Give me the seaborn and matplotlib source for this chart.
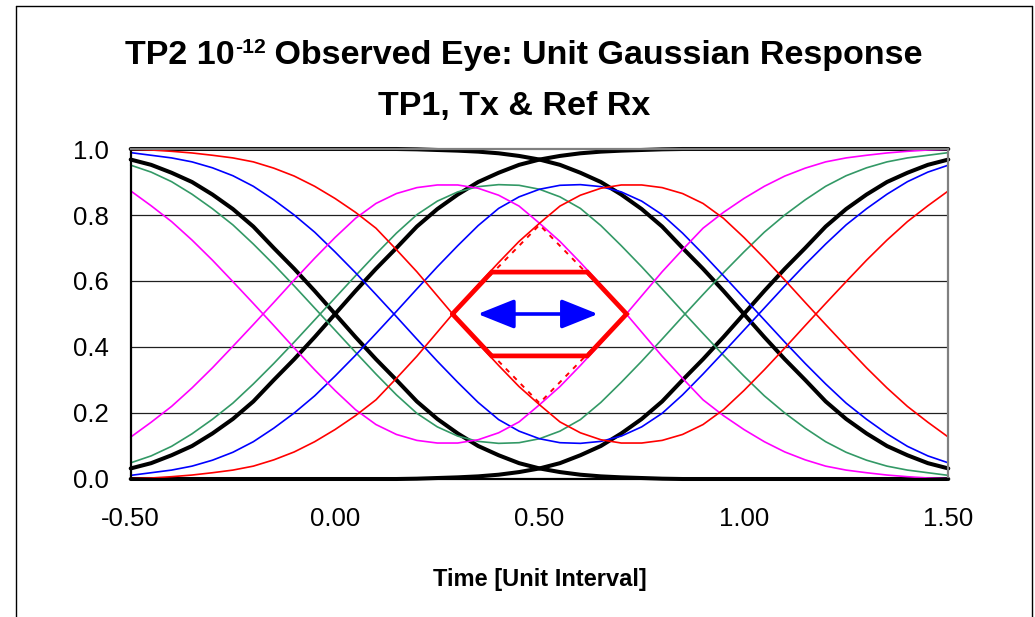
import matplotlib
matplotlib.use("Agg")
import matplotlib.pyplot as plt
import seaborn as sns
import pandas as pd
from matplotlib.lines import Line2D
from matplotlib.ticker import MultipleLocator

# ---------------- data ----------------
t_ui = [-0.50, -0.45, -0.40, -0.35, -0.30, -0.25, -0.20, -0.15, -0.10, -0.05,
        0.00, 0.05, 0.10, 0.15, 0.20, 0.25, 0.30, 0.35, 0.40, 0.45,
        0.50, 0.55, 0.60, 0.65, 0.70, 0.75, 0.80, 0.85, 0.90, 0.95,
        1.00, 1.05, 1.10, 1.15, 1.20, 1.25, 1.30, 1.35, 1.40, 1.45, 1.50]

red_up = [0.001, 0.003, 0.007, 0.012, 0.019, 0.027, 0.039, 0.058, 0.082, 0.113,
          0.150, 0.192, 0.240, 0.305, 0.372, 0.445, 0.518, 0.589, 0.656, 0.720,
          0.775, 0.827, 0.860, 0.881, 0.891, 0.891, 0.883, 0.865, 0.835, 0.790,
          0.732, 0.669, 0.603, 0.535, 0.468, 0.402, 0.337, 0.276, 0.220, 0.172, 0.127]
red_dn = [0.999, 0.997, 0.993, 0.988, 0.981, 0.973, 0.961, 0.942, 0.918, 0.887,
          0.850, 0.808, 0.760, 0.695, 0.628, 0.555, 0.482, 0.411, 0.344, 0.280,
          0.225, 0.173, 0.140, 0.119, 0.109, 0.109, 0.117, 0.135, 0.165, 0.210,
          0.268, 0.331, 0.397, 0.465, 0.532, 0.598, 0.663, 0.724, 0.780, 0.828, 0.873]
mag_up = [0.127, 0.172, 0.220, 0.276, 0.337, 0.402, 0.468, 0.535, 0.603, 0.669,
          0.732, 0.790, 0.835, 0.865, 0.883, 0.891, 0.891, 0.881, 0.860, 0.827,
          0.775, 0.720, 0.656, 0.589, 0.518, 0.445, 0.372, 0.305, 0.240, 0.192,
          0.150, 0.113, 0.082, 0.058, 0.039, 0.027, 0.019, 0.012, 0.007, 0.003, 0.001]
mag_dn = [0.873, 0.828, 0.780, 0.724, 0.663, 0.598, 0.532, 0.465, 0.397, 0.331,
          0.268, 0.210, 0.165, 0.135, 0.117, 0.109, 0.109, 0.119, 0.140, 0.173,
          0.225, 0.280, 0.344, 0.411, 0.482, 0.555, 0.628, 0.695, 0.760, 0.808,
          0.850, 0.887, 0.918, 0.942, 0.961, 0.973, 0.981, 0.988, 0.993, 0.997, 0.999]
blue_up = [0.011, 0.019, 0.027, 0.039, 0.057, 0.081, 0.113, 0.154, 0.200, 0.252,
           0.312, 0.375, 0.441, 0.508, 0.576, 0.643, 0.707, 0.768, 0.820, 0.855,
           0.878, 0.890, 0.892, 0.886, 0.870, 0.842, 0.801, 0.745, 0.682, 0.616,
           0.549, 0.482, 0.415, 0.350, 0.288, 0.230, 0.181, 0.137, 0.099, 0.070, 0.049]
blue_dn = [0.989, 0.981, 0.973, 0.961, 0.943, 0.919, 0.887, 0.846, 0.800, 0.748,
           0.688, 0.625, 0.559, 0.492, 0.424, 0.357, 0.293, 0.232, 0.180, 0.145,
           0.122, 0.110, 0.108, 0.114, 0.130, 0.158, 0.199, 0.255, 0.318, 0.384,
           0.451, 0.518, 0.585, 0.650, 0.712, 0.770, 0.819, 0.863, 0.901, 0.930, 0.951]
green_up = [0.049, 0.070, 0.099, 0.137, 0.181, 0.230, 0.288, 0.350, 0.415, 0.482,
            0.549, 0.616, 0.682, 0.745, 0.801, 0.842, 0.870, 0.886, 0.892, 0.890,
            0.878, 0.855, 0.820, 0.768, 0.707, 0.643, 0.576, 0.508, 0.441, 0.375,
            0.312, 0.252, 0.200, 0.154, 0.113, 0.081, 0.057, 0.039, 0.027, 0.019, 0.011]
green_dn = [0.951, 0.930, 0.901, 0.863, 0.819, 0.770, 0.712, 0.650, 0.585, 0.518,
            0.451, 0.384, 0.318, 0.255, 0.199, 0.158, 0.130, 0.114, 0.108, 0.110,
            0.122, 0.145, 0.180, 0.232, 0.293, 0.357, 0.424, 0.492, 0.559, 0.625,
            0.688, 0.748, 0.800, 0.846, 0.887, 0.919, 0.943, 0.961, 0.973, 0.981, 0.989]
black_up0 = [0.032, 0.048, 0.072, 0.100, 0.138, 0.182, 0.235, 0.300, 0.363, 0.430,
             0.500, 0.570, 0.637, 0.700, 0.765, 0.818, 0.862, 0.900, 0.928, 0.952,
             0.968, 0.979, 0.987, 0.992, 0.995, 0.997, 0.999, 1.000, 1.000, 1.000,
             1.000, 1.000, 1.000, 1.000, 1.000, 1.000, 1.000, 1.000, 1.000, 1.000, 1.000]
black_dn0 = [0.968, 0.952, 0.928, 0.900, 0.862, 0.818, 0.765, 0.700, 0.637, 0.570,
             0.500, 0.430, 0.363, 0.300, 0.235, 0.182, 0.138, 0.100, 0.072, 0.048,
             0.032, 0.021, 0.013, 0.008, 0.005, 0.003, 0.001, 0.000, 0.000, 0.000,
             0.000, 0.000, 0.000, 0.000, 0.000, 0.000, 0.000, 0.000, 0.000, 0.000, 0.000]
black_up1 = [0.000, 0.000, 0.000, 0.000, 0.000, 0.000, 0.000, 0.000, 0.000, 0.000,
             0.000, 0.000, 0.000, 0.000, 0.001, 0.003, 0.005, 0.008, 0.013, 0.021,
             0.032, 0.048, 0.072, 0.100, 0.138, 0.182, 0.235, 0.300, 0.363, 0.430,
             0.500, 0.570, 0.637, 0.700, 0.765, 0.818, 0.862, 0.900, 0.928, 0.952, 0.968]
black_dn1 = [1.000, 1.000, 1.000, 1.000, 1.000, 1.000, 1.000, 1.000, 1.000, 1.000,
             1.000, 1.000, 1.000, 1.000, 0.999, 0.997, 0.995, 0.992, 0.987, 0.979,
             0.968, 0.952, 0.928, 0.900, 0.862, 0.818, 0.765, 0.700, 0.637, 0.570,
             0.500, 0.430, 0.363, 0.300, 0.235, 0.182, 0.138, 0.100, 0.072, 0.048, 0.032]

# eye mask (hexagon) and dotted diamond
hex_t = [0.287, 0.383, 0.617, 0.713, 0.617, 0.383, 0.287]
hex_v = [0.500, 0.627, 0.627, 0.500, 0.373, 0.373, 0.500]
dia_t = [0.287, 0.500, 0.713, 0.500, 0.287]
dia_v = [0.500, 0.770, 0.500, 0.230, 0.500]
arrow_t = [0.349, 0.643]
arrow_v = [0.500, 0.500]

x_ticks = [-0.5, 0.0, 0.5, 1.0, 1.5]
x_ticklabels = ["-0.50", "0.00", "0.50", "1.00", "1.50"]
y_ticks = [0.0, 0.2, 0.4, 0.6, 0.8, 1.0]
y_ticklabels = ["0.0", "0.2", "0.4", "0.6", "0.8", "1.0"]
grid_levels = [0.2, 0.4, 0.6, 0.8]

title_main = "TP2 10"
title_sup = "-12"
title_rest = " Observed Eye: Unit Gaussian Response"
title_line2 = "TP1, Tx & Ref Rx"
x_label = "Time [Unit Interval]"

# ---------------- styling ----------------
sns.set_style("white")
plt.rcParams['font.family'] = ['Liberation Sans', 'DejaVu Sans']
plt.rcParams['text.color'] = 'black'
plt.rcParams['axes.labelcolor'] = 'black'

W, H = 1035, 617
fig = plt.figure(figsize=(W / 100, H / 100), dpi=100)
fig.patch.set_facecolor("white")
ax = fig.add_axes([130.7 / W, 1 - 479 / H, (948.3 - 130.7) / W, (479 - 149) / H])

for lv in grid_levels:
    ax.axhline(lv, color="#202020", lw=0.9, zorder=0)

curves = [
    ("black_up0", black_up0, "black", 2.9),
    ("black_dn0", black_dn0, "black", 2.9),
    ("black_up1", black_up1, "black", 2.9),
    ("black_dn1", black_dn1, "black", 2.9),
    ("green_up", green_up, "#339966", 1.2),
    ("green_dn", green_dn, "#339966", 1.2),
    ("blue_up", blue_up, "#0000FF", 1.2),
    ("blue_dn", blue_dn, "#0000FF", 1.2),
    ("mag_up", mag_up, "#FF00FF", 1.2),
    ("mag_dn", mag_dn, "#FF00FF", 1.2),
    ("red_up", red_up, "#FF0000", 1.2),
    ("red_dn", red_dn, "#FF0000", 1.2),
]
for i, (name, vals, col, lw) in enumerate(curves):
    df = pd.DataFrame({"t": t_ui, "v": vals})
    sns.lineplot(data=df, x="t", y="v", color=col, lw=lw, ax=ax,
                 estimator=None, sort=False, zorder=2 + i * 0.01, clip_on=False)

df_dia = pd.DataFrame({"t": dia_t, "v": dia_v})
sns.lineplot(data=df_dia, x="t", y="v", color="#FF0000", lw=1.4, ax=ax,
             estimator=None, sort=False, linestyle=(0, (2.5, 3)), zorder=3)
df_hex = pd.DataFrame({"t": hex_t, "v": hex_v})
sns.lineplot(data=df_hex, x="t", y="v", color="#FF0000", lw=3.4, ax=ax,
             estimator=None, sort=False, zorder=4)
ax.lines[-1].set_solid_joinstyle("miter")

ax.annotate("", xy=(arrow_t[1], arrow_v[1]), xytext=(arrow_t[0], arrow_v[0]),
            arrowprops=dict(arrowstyle="<|-|>,head_length=1.5,head_width=0.6",
                            mutation_scale=15, color="#0000FF", lw=2.6,
                            shrinkA=0, shrinkB=0), zorder=5)

ax.set_xlim(-0.5, 1.5)
ax.set_ylim(0.0, 1.0)
ax.set_xticks(x_ticks)
ax.set_xticklabels(x_ticklabels)
ax.set_yticks(y_ticks)
ax.set_yticklabels(y_ticklabels)
ax.xaxis.set_minor_locator(MultipleLocator(0.1))
ax.yaxis.set_minor_locator(MultipleLocator(0.04))
ax.tick_params(axis="both", which="major", direction="out", length=8, width=1.2,
               color="black", labelsize=18.5, labelcolor="black")
ax.tick_params(axis="both", which="minor", direction="out", length=6, width=1.0,
               color="black")
ax.tick_params(axis="x", which="major", pad=12)
ax.tick_params(axis="y", which="major", pad=8)
ax.set_xlabel(x_label, fontsize=17, fontweight="bold", labelpad=27, color="black")
ax.set_ylabel("")

for side in ["left", "bottom"]:
    ax.spines[side].set_color("black")
    ax.spines[side].set_linewidth(1.6)
for side in ["top", "right"]:
    ax.spines[side].set_color("#808080")
    ax.spines[side].set_linewidth(1.6)
    ax.spines[side].set_visible(True)

# title with superscript, laid out by measuring text widths
fig.canvas.draw()
r = fig.canvas.get_renderer()
fs_t = 24.5
base_y = 1 - 64 / H
p1 = fig.text(0, base_y, title_main, fontsize=fs_t, fontweight="bold", va="baseline", ha="left", color="black")
p2 = fig.text(0, base_y + 11 / H, title_sup, fontsize=fs_t * 0.62, fontweight="bold", va="baseline", ha="left", color="black")
p3 = fig.text(0, base_y, title_rest, fontsize=fs_t, fontweight="bold", va="baseline", ha="left", color="black")
w1 = p1.get_window_extent(r).width
w2 = p2.get_window_extent(r).width
w3 = p3.get_window_extent(r).width
total = w1 + w2 + w3
cx = 524
x0 = cx - total / 2
p1.set_x(x0 / W)
p2.set_x((x0 + w1) / W)
p3.set_x((x0 + w1 + w2) / W)
fig.text(514 / W, 1 - 115 / H, title_line2, fontsize=fs_t, fontweight="bold",
         va="baseline", ha="center", color="black")

# outer chart frame (left, top, right)
for (xa, ya, xb, yb) in [(15.5, 617, 15.5, 5.5), (15.5, 5.5, 1031.5, 5.5), (1031.5, 5.5, 1031.5, 617)]:
    fig.add_artist(Line2D([xa / W, xb / W], [1 - ya / H, 1 - yb / H], color="black", lw=1.0,
                          transform=fig.transFigure))

fig.savefig("out.png", dpi=100, facecolor="white")
